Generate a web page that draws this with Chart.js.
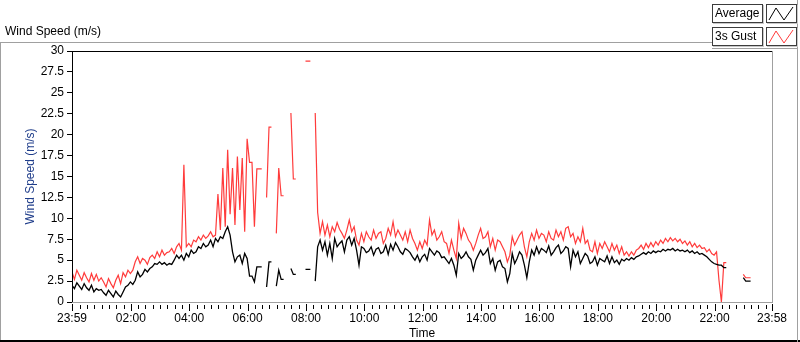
<!DOCTYPE html>
<html lang="en">
<head>
<meta charset="UTF-8" />
<title>Wind Speed</title>
<script src="https://cdn.jsdelivr.net/npm/chart.js"></script>
<style>
  body { margin: 0; width: 800px; height: 342px; background: #fff; position: relative; overflow: hidden;
         font-family: "Liberation Sans", Arial, sans-serif; font-size: 12px; color: #000; }
  #chart { position: absolute; left: 0; top: 0; }
  #title { position: absolute; left: 5px; top: 24px; }
  .line { position: absolute; }
  #topline { left: 0; top: 42px; width: 712px; border-top: 1px solid #a0a0a0; }
  #leftline { left: 0; top: 42px; height: 300px; border-left: 1px solid #a0a0a0; }
  #bottomline { left: 0; top: 340px; width: 800px; border-top: 2px solid #000; }
  #rightline { left: 797px; top: 0; height: 342px; border-left: 1px solid #a0a0a0; }
  #legline { left: 712px; top: 48px; width: 86px; border-top: 1px solid #a0a0a0; }
  .leg { position: absolute; left: 712px; width: 51px; height: 19px; box-sizing: border-box;
         border: 1px solid #3c3c3c; box-shadow: 1px 1px 0 #c8c8c8; line-height: 17px; padding-left: 2px; background: #fff; }
  .icon { position: absolute; left: 766px; width: 31px; height: 19px; box-sizing: border-box;
          border: 1px solid #3c3c3c; box-shadow: 1px 1px 0 #c8c8c8; background: #fff; }
  .icon svg { display: block; }
</style>
</head>
<body>
  <canvas id="chart" width="800" height="342"></canvas>
  <div id="title">Wind Speed (m/s)</div>
  <div class="line" id="topline"></div>
  <div class="line" id="leftline"></div>
  <div class="line" id="bottomline"></div>
  <div class="line" id="rightline"></div>
  <div class="line" id="legline"></div>
  <div class="leg" style="top:4px">Average</div>
  <div class="icon" style="top:4px"><svg width="29" height="17"><polyline points="2,15 9,3 17,15 26,2" fill="none" stroke="#000" stroke-width="1"/></svg></div>
  <div class="leg" style="top:27px">3s Gust</div>
  <div class="icon" style="top:27px"><svg width="29" height="17"><polyline points="2,15 9,3 17,15 26,2" fill="none" stroke="#ff3b3b" stroke-width="1"/></svg></div>

  <script>
    // samples every 5 minutes starting 23:59 (minute 0) -> 23:58 next day (minute 1439)
    const stepMinutes = 5;

    const average = [
      2.0, 1.6, 2.3, 1.9, 1.5, 2.2, 1.7, 1.4, 2.0, 1.2, 1.6, 1.4,
      1.5, 1.1, 0.8, 1.4, 1.0, 0.6, 1.3, 0.9, 0.6, 1.2, 1.8, 2.0,
      2.4, 2.1, 2.6, 3.6, 3.0, 3.3, 3.9, 3.6, 4.0, 4.2, 4.6, 4.5,
      4.8, 4.5, 4.7, 4.4, 4.6, 4.5, 5.0, 5.6, 5.2, 5.6, 5.0, 5.8,
      5.4, 6.2, 5.8, 6.0, 6.6, 6.4, 7.0, 6.6, 6.8, 7.4, 6.6, 7.6,
      7.2, 7.8, 7.6, 8.4, 9.0, 8.0, 6.0, 4.8, 5.4, 5.6, 4.6, 5.8,
      5.2, 3.1, 3.1, 2.4, 4.2, 4.2, 4.2, null, 1.8, 4.8, 4.8, null,
      1.9, 3.8, 2.7, 2.7, null, null, 4.0, 3.3, 3.3, null, null, null,
      3.9, 3.9, 3.9, null, 2.5, 6.6, 7.4, 6.2, 7.2, 5.6, 7.0, 5.2,
      7.6, 6.6, 7.0, 7.3, 6.0, 7.4, 7.8, 6.8, 7.6, 6.2, 4.4, 6.6,
      6.4, 5.9, 6.1, 6.6, 5.6, 6.3, 6.5, 5.8, 6.0, 6.8, 5.7, 6.9,
      6.2, 7.1, 6.6, 6.0, 5.7, 6.4, 6.2, 5.9, 5.4, 5.0, 5.6, 4.8,
      5.4, 5.7, 5.0, 6.4, 6.0, 5.6, 6.1, 5.9, 5.3, 5.4, 5.0, 4.6,
      5.2, 4.4, 3.2, 5.8, 5.2, 5.5, 6.0, 5.4, 5.1, 3.8, 5.0, 5.6,
      6.2, 5.6, 5.9, 6.4, 4.6, 5.2, 3.8, 4.8, 5.0, 4.2, 4.0, 2.4,
      3.4, 5.8, 4.6, 5.2, 6.0, 5.6, 4.4, 2.9, 4.8, 6.2, 5.6, 6.6,
      5.8, 6.4, 6.2, 5.9, 6.7, 5.6, 6.0, 6.5, 6.8, 5.8, 6.1, 6.6,
      6.4, 4.2, 6.2, 5.4, 6.0, 4.6, 5.2, 5.8, 5.5, 4.6, 4.8, 5.4,
      4.4, 5.2, 5.0, 4.8, 5.5, 4.6, 5.4, 4.7, 5.0, 4.5, 5.1, 4.9,
      5.2, 5.0, 5.3, 5.1, 5.4, 5.5, 5.7, 5.9, 5.7, 6.0, 5.8, 6.1,
      5.9, 6.1, 6.0, 6.3, 6.1, 6.3, 6.2, 6.4, 6.1, 6.3, 6.1, 6.2,
      6.0, 6.2, 5.9, 6.1, 5.8, 6.0, 5.7, 5.8, 5.6, 5.4, 5.1, 4.8,
      4.6, 4.5, 4.4, 4.4, 4.1, 4.1, null, null, null, null, null, null,
      2.9, 2.5, 2.5, 2.5, null, null, null, null, null, null, null, null
    ];

    const gust = [
      3.6, 2.7, 3.8, 3.2, 2.6, 3.5, 2.9, 2.4, 3.4, 2.6, 3.3, 2.5,
      2.9, 2.4, 1.8, 2.8, 2.2, 1.7, 2.6, 3.2, 2.2, 3.5, 3.0, 3.8,
      3.4, 3.8, 4.8, 5.4, 4.6, 5.2, 5.0, 4.5, 5.3, 5.6, 5.2, 6.0,
      5.4, 6.2, 5.6, 5.9, 6.0, 6.4, 5.8, 6.6, 7.0, 6.2, 16.4, 6.6,
      7.0, 6.6, 7.4, 7.2, 7.8, 7.4, 8.0, 7.6, 7.9, 8.4, 7.8, 8.0,
      12.9, 8.6, 16.0, 9.0, 18.2, 10.5, 16.0, 9.2, 17.4, 11.0, 17.2, 8.4,
      19.5, 16.7, 16.7, 9.0, 15.9, 15.9, 15.9, null, 12.5, 20.9, 20.9, null,
      8.2, 16.0, 12.7, 12.7, null, null, 22.6, 14.7, 14.7, null, null, null,
      28.8, 28.8, 28.8, null, 22.6, 10.7, 8.2, 9.6, 8.0, 9.2, 7.8, 9.0,
      8.4, 9.5, 8.7, 8.2, 7.6, 8.6, 9.8, 8.4, 9.0, 7.4, 6.8, 8.2,
      7.2, 8.4, 7.8, 7.4, 8.6, 7.6, 8.2, 8.4, 7.0, 7.6, 8.8, 8.0,
      9.6, 7.8, 8.6, 8.0, 7.4, 8.4, 7.2, 8.6, 7.6, 7.0, 6.2, 7.2,
      6.4, 7.4, 6.8, 9.8, 8.0, 8.6, 7.4, 7.8, 8.4, 7.2, 7.0, 5.8,
      7.4, 6.2, 5.2, 9.4, 7.6, 8.8, 8.2, 7.4, 7.0, 6.2, 7.0, 8.0,
      8.8, 7.6, 7.8, 8.4, 6.6, 7.6, 6.2, 7.4, 7.2, 6.6, 6.0, 4.8,
      5.6, 7.8, 6.8, 7.4, 8.0, 8.4, 6.6, 5.4, 7.2, 8.2, 7.4, 8.6,
      7.6, 8.2, 8.0, 7.2, 8.4, 7.6, 7.4, 8.6, 7.8, 8.4, 7.4, 8.8,
      9.0, 7.8, 8.2, 7.0, 7.8, 7.2, 8.8, 7.0, 7.4, 6.2, 6.0, 7.2,
      5.8, 7.0, 6.4, 7.2, 6.6, 6.0, 7.0, 6.2, 6.8, 5.8, 6.6, 5.6,
      6.0, 5.5, 6.0, 5.6, 6.2, 6.4, 6.8, 6.3, 7.0, 6.5, 7.1, 6.6,
      7.2, 6.8, 7.4, 7.0, 7.6, 7.2, 7.7, 7.3, 7.6, 7.2, 7.5, 7.0,
      7.3, 6.8, 7.2, 6.6, 7.0, 6.5, 6.8, 6.4, 6.5, 6.0, 6.3, 5.8,
      5.6, 6.0, 2.6, 0, 4.7, 4.7, null, null, null, null, null, null,
      3.3, 2.9, 2.9, 2.9, null, null, null, null, null, null, null, null
    ];

    const timeTicks = [0, 121, 241, 361, 481, 601, 721, 841, 961, 1081, 1201, 1321, 1439];
    const timeLabels = ['23:59', '02:00', '04:00', '06:00', '08:00', '10:00', '12:00',
                        '14:00', '16:00', '18:00', '20:00', '22:00', '23:58'];

    const toPoints = vals => vals.map((v, i) => ({ x: i * stepMinutes, y: v }));

    // minor time ticks every 15 min, lined up with the hour labels
    const minorTicks = [];
    for (let m = 16; m < 1439; m += 15) {
      if (!timeTicks.includes(m)) minorTicks.push(m);
    }

    // sunken plot frame + time axis tick marks
    const framePlugin = {
      id: 'frame',
      afterDraw(chart) {
        const { ctx, chartArea: a, scales: { x } } = chart;
        ctx.save();
        ctx.lineWidth = 1;
        ctx.strokeStyle = '#000';
        ctx.beginPath();
        ctx.moveTo(a.left, a.top + 0.5); ctx.lineTo(a.right, a.top + 0.5);
        ctx.moveTo(a.left + 0.5, a.top); ctx.lineTo(a.left + 0.5, a.bottom);
        ctx.stroke();
        ctx.strokeStyle = '#a0a0a0';
        ctx.beginPath();
        ctx.moveTo(a.right + 0.5, a.top); ctx.lineTo(a.right + 0.5, a.bottom + 1);
        ctx.moveTo(a.left, a.bottom + 0.5); ctx.lineTo(a.right + 1, a.bottom + 0.5);
        ctx.stroke();
        ctx.strokeStyle = '#000';
        ctx.beginPath();
        minorTicks.forEach(m => {
          const px = Math.round(x.getPixelForValue(m)) + 0.5;
          ctx.moveTo(px, a.bottom + 3); ctx.lineTo(px, a.bottom + 7);
        });
        timeTicks.forEach(m => {
          const px = Math.round(x.getPixelForValue(m)) + 0.5;
          ctx.moveTo(px, a.bottom + 2); ctx.lineTo(px, a.bottom + 9);
        });
        ctx.stroke();
        ctx.restore();
      }
    };

    const font = { family: '"Liberation Sans", Arial, sans-serif', size: 12 };

    new Chart(document.getElementById('chart'), {
      type: 'line',
      data: {
        datasets: [
          { label: 'Average', data: toPoints(average), borderColor: '#000', borderWidth: 1.3,
            pointRadius: 0, tension: 0, spanGaps: false },
          { label: '3s Gust', data: toPoints(gust), borderColor: '#ff3b3b', borderWidth: 1.2,
            pointRadius: 0, tension: 0, spanGaps: false }
        ]
      },
      options: {
        responsive: false,
        animation: false,
        devicePixelRatio: 1,
        layout: { padding: { top: 51, right: 28, left: 0, bottom: 0 } },
        plugins: { legend: { display: false }, tooltip: { enabled: false } },
        scales: {
          x: {
            type: 'linear', min: 0, max: 1439,
            afterBuildTicks: s => { s.ticks = timeTicks.map(v => ({ value: v })); },
            afterFit: s => { s.height = 40; },
            ticks: {
              autoSkip: false, maxRotation: 0, padding: 9, color: '#000', font,
              callback: v => timeLabels[timeTicks.indexOf(v)]
            },
            grid: { drawOnChartArea: false, drawTicks: false },
            border: { display: false },
            title: { display: true, text: 'Time', color: '#000', font, padding: { top: 0, bottom: 1 } }
          },
          y: {
            min: 0, max: 30,
            afterFit: s => { s.width = 72; },
            ticks: { stepSize: 2.5, padding: 3, color: '#000', font },
            grid: { drawOnChartArea: false, tickLength: 5, color: '#000' },
            border: { display: false },
            title: { display: true, text: 'Wind Speed (m/s)', color: '#1f3d8a', font, padding: { top: 23, bottom: 0 } }
          }
        }
      },
      plugins: [framePlugin]
    });
  </script>
</body>
</html>
